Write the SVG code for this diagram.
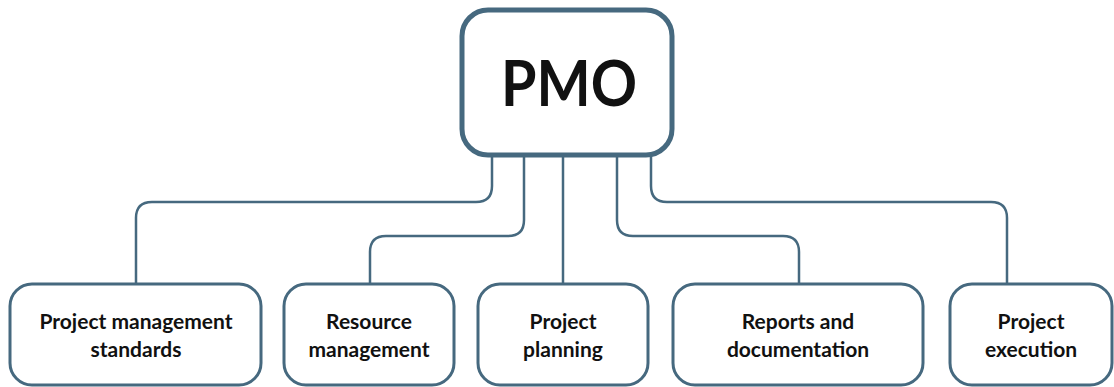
<svg xmlns="http://www.w3.org/2000/svg" width="1114" height="387" viewBox="0 0 1114 387">
<style>
.box{fill:#fff;stroke:#46697f;stroke-width:3}
.root{fill:#fff;stroke:#46697f;stroke-width:5}
.conn{fill:none;stroke:#46697f;stroke-width:2.5}
.lbl{font-family:Lato,"Noto Sans",sans-serif;font-weight:bold;font-size:21px;fill:#111;text-anchor:middle}
.big{font-family:Lato,"Noto Sans",sans-serif;font-weight:bold;font-size:64px;fill:#111;text-anchor:middle}
</style>
<rect width="1114" height="387" fill="#fff"/>
<g id="connectors">
<path class="conn" d="M492 156 V186 Q492 202 476 202 H152 Q136 202 136 218 V284"/>
<path class="conn" d="M524 156 V220 Q524 236 508 236 H386 Q370 236 370 252 V284"/>
<path class="conn" d="M563 156 V284"/>
<path class="conn" d="M617 156 V220 Q617 236 633 236 H783 Q799 236 799 252 V284"/>
<path class="conn" d="M651 156 V186 Q651 202 667 202 H991 Q1007 202 1007 218 V284"/>
</g>
<g id="pmo">
<rect class="root" x="462" y="10" width="210" height="145" rx="26"/>
<text class="big" x="569" y="106" textLength="136" lengthAdjust="spacingAndGlyphs">PMO</text>
</g>
<g id="n1">
<rect class="box" x="10" y="284" width="251" height="101" rx="22"/>
<text class="lbl" x="136" y="329">Project management</text>
<text class="lbl" x="136" y="357">standards</text>
</g>
<g id="n2">
<rect class="box" x="284" y="284" width="170" height="101" rx="22"/>
<text class="lbl" x="369" y="329">Resource</text>
<text class="lbl" x="369" y="357">management</text>
</g>
<g id="n3">
<rect class="box" x="478" y="284" width="170" height="101" rx="22"/>
<text class="lbl" x="563" y="329">Project</text>
<text class="lbl" x="563" y="357">planning</text>
</g>
<g id="n4">
<rect class="box" x="673" y="284" width="250" height="101" rx="22"/>
<text class="lbl" x="798" y="329">Reports and</text>
<text class="lbl" x="798" y="357">documentation</text>
</g>
<g id="n5">
<rect class="box" x="950" y="284" width="162" height="101" rx="22"/>
<text class="lbl" x="1031" y="329">Project</text>
<text class="lbl" x="1031" y="357">execution</text>
</g>
</svg>
